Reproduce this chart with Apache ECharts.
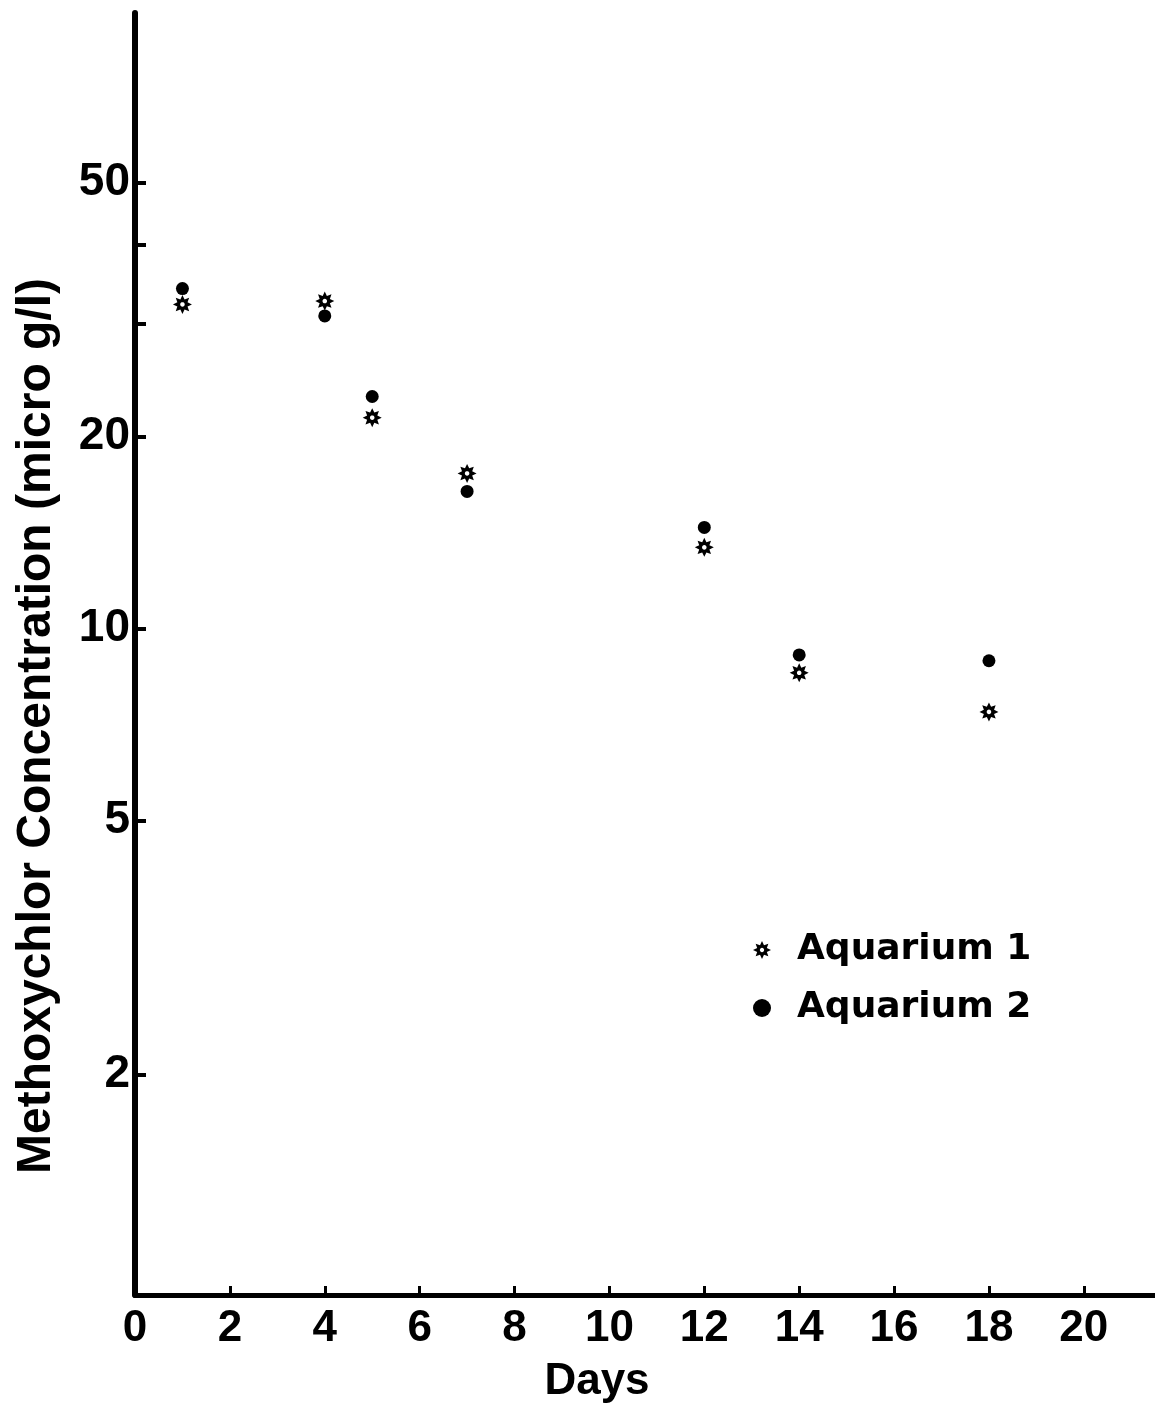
<!DOCTYPE html>
<html>
<head>
<meta charset="utf-8">
<script src="https://cdn.jsdelivr.net/npm/echarts@6/dist/echarts.min.js"></script>
<style>
  html, body { margin: 0; padding: 0; background: #fff; }
  #main { width: 1155px; height: 1409px; }
</style>
</head>
<body>
<div id="main"></div>
<script>
// values (micro g/l)
const days = [1, 4, 5, 7, 12, 14, 18];
const aquarium1 = [32.2, 32.6, 21.4, 17.5, 13.4, 8.52, 7.40];
const aquarium2 = [34.1, 30.9, 23.1, 16.4, 14.4, 9.09, 8.90];
const xTicks = [0, 2, 4, 6, 8, 10, 12, 14, 16, 18, 20];
const yTicks = [2, 5, 10, 20, 30, 40, 50];
const yLabels = [2, 5, 10, 20, 50];

const log = v => Math.log10(v);

// little sun-like asterisk with a hole in the middle
function asteriskPath() {
  let d = '';
  const n = 8, R = 10, r = 5.8, h = 2.4;
  for (let i = 0; i < 2 * n; i++) {
    const a = i * Math.PI / n - Math.PI / 2;
    const rad = i % 2 ? r : R;
    d += (i ? 'L' : 'M') + (rad * Math.cos(a)).toFixed(3) + ' ' + (rad * Math.sin(a)).toFixed(3) + ' ';
  }
  d += 'Z ';
  for (let i = 0; i < 16; i++) {
    const a = -i * Math.PI / 8;
    d += (i ? 'L' : 'M') + (h * Math.cos(a)).toFixed(3) + ' ' + (h * Math.sin(a)).toFixed(3) + ' ';
  }
  return 'path://' + d + 'Z';
}
const star = asteriskPath();

const font = '"Liberation Sans", Arial, sans-serif';

let myChart = echarts.init(document.getElementById('main'), null, { renderer: 'canvas' });
myChart.setOption({
  backgroundColor: '#fff',
  animation: false,
  grid: { left: 135, right: 0, top: 13, bottom: 114, containLabel: false },
  legend: {
    orient: 'vertical',
    left: 753,
    top: 930,
    padding: 0,
    itemWidth: 60,
    itemHeight: 18,
    itemGap: 18,
    itemStyle: { opacity: 1 },
    textStyle: {
      fontFamily: '"DejaVu Sans", sans-serif',
      fontWeight: 'bold',
      fontSize: 36,
      lineHeight: 40,
      color: '#000'
    },
    data: [
      { name: 'Aquarium 1', icon: star },
      { name: 'Aquarium 2', icon: 'circle' }
    ]
  },
  xAxis: {
    type: 'value',
    min: 0,
    max: 21.5,
    name: 'Days',
    nameLocation: 'middle',
    nameGap: 65,
    nameTextStyle: {
      fontFamily: font, fontWeight: 'bold', fontSize: 44, color: '#000',
      padding: [0, 96, 0, 0]
    },
    axisLine: { onZero: false, lineStyle: { color: '#000', width: 5 } },
    axisTick: { inside: true, length: 9, lineStyle: { color: '#000', width: 3 }, customValues: xTicks },
    axisLabel: {
      customValues: xTicks,
      margin: 12,
      fontFamily: font, fontWeight: 'bold', fontSize: 44, color: '#000'
    },
    splitLine: { show: false }
  },
  yAxis: {
    type: 'value',
    min: log(0.902),
    max: log(92.2),
    name: 'Methoxychlor Concentration (micro g/l)',
    nameLocation: 'middle',
    nameRotate: 90,
    nameGap: 74,
    nameTextStyle: {
      fontFamily: font, fontWeight: 'bold', fontSize: 48, color: '#000',
      padding: [0, 144, 0, 0]
    },
    axisLine: { onZero: false, lineStyle: { color: '#000', width: 6 } },
    axisTick: { inside: true, length: 11, lineStyle: { color: '#000', width: 4 }, customValues: yTicks.map(log) },
    axisLabel: {
      customValues: yLabels.map(log),
      margin: 5,
      formatter: v => String(Math.round(Math.pow(10, v))),
      fontFamily: font, fontWeight: 'bold', fontSize: 46, color: '#000'
    },
    splitLine: { show: false }
  },
  series: [
    {
      name: 'Aquarium 1',
      type: 'scatter',
      symbol: star,
      symbolSize: 19,
      itemStyle: { color: '#000', opacity: 1 },
      data: days.map((d, i) => [d, log(aquarium1[i])])
    },
    {
      name: 'Aquarium 2',
      type: 'scatter',
      symbol: 'circle',
      symbolSize: 13,
      itemStyle: { color: '#000', opacity: 1 },
      data: days.map((d, i) => [d, log(aquarium2[i])])
    }
  ]
});
</script>
</body>
</html>
